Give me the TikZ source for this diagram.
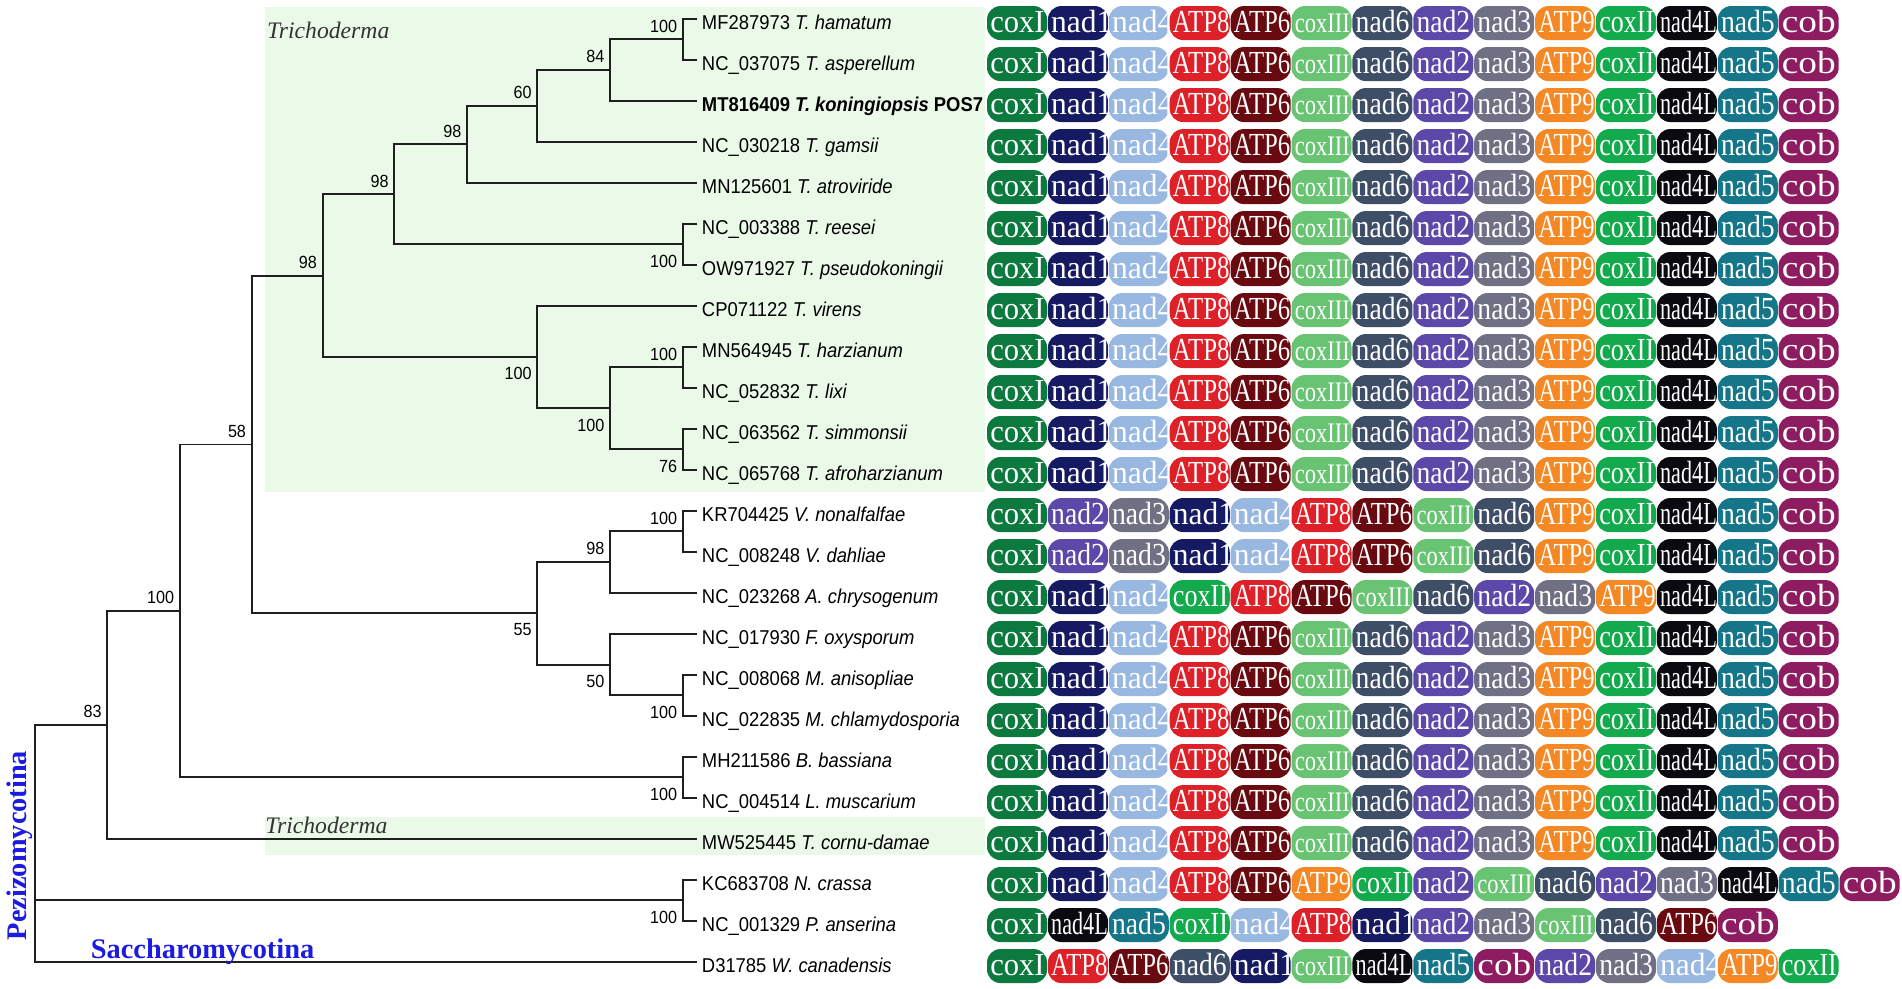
\documentclass[tikz,border=0pt]{standalone}
\usepackage{fontspec}
\usepackage{graphicx}
\newfontfamily\taxfont{Liberation Sans}[FakeStretch=0.92]
\newfontfamily\pillfont{Liberation Serif}
\newfontfamily\titlefont{Liberation Serif}
\definecolor{gcoxI}{RGB}{12,122,62}
\definecolor{gnad1}{RGB}{22,26,98}
\definecolor{gnad4}{RGB}{152,184,226}
\definecolor{gATP8}{RGB}{222,32,40}
\definecolor{gATP6}{RGB}{104,10,16}
\definecolor{gcoxIII}{RGB}{104,196,114}
\definecolor{gnad6}{RGB}{62,78,102}
\definecolor{gnad2}{RGB}{92,72,168}
\definecolor{gnad3}{RGB}{112,112,132}
\definecolor{gATP9}{RGB}{244,136,36}
\definecolor{gcoxII}{RGB}{18,170,76}
\definecolor{gnad4L}{RGB}{10,10,16}
\definecolor{gnad5}{RGB}{20,118,136}
\definecolor{gcob}{RGB}{142,28,96}
\definecolor{trigreen}{RGB}{235,249,233}
\definecolor{cladeblue}{RGB}{28,28,224}
\newcommand\setgene[3]{\expandafter\def\csname ghs#1\endcsname{#2}\expandafter\def\csname gvs#1\endcsname{#3}}
\setgene{coxI}{0.95}{1}
\setgene{nad1}{0.98}{1}
\setgene{nad4}{0.98}{1}
\setgene{ATP8}{0.77}{1}
\setgene{ATP6}{0.77}{1}
\setgene{ATP9}{0.77}{1}
\setgene{coxIII}{0.7}{0.88}
\setgene{nad6}{0.86}{1}
\setgene{nad2}{0.86}{1}
\setgene{nad3}{0.86}{1}
\setgene{nad5}{0.86}{1}
\setgene{coxII}{0.81}{1}
\setgene{nad4L}{0.69}{1}
\setgene{cob}{1.16}{1}
\newcommand\generow[2]{%
  \edef\genelist{#2}%
  \foreach \g [count=\k from 0] in \genelist {
    \pgfmathsetmacro\px{813.7+50.2*\k}
    \pgfmathsetmacro\py{15.5+33.8*#1+3.5}
    \fill[fill=g\g, rounded corners=11pt] (\px,\py-14) rectangle ++(49.5,28);
    \node[pilltxt] (g#1-\k) at (\px+2.5,\py+7.8)
      {\scalebox{\csname ghs\g\endcsname}[\csname gvs\g\endcsname]{\g}};
  }}
\def\stdrow{coxI,nad1,nad4,ATP8,ATP6,coxIII,nad6,nad2,nad3,ATP9,coxII,nad4L,nad5,cob}
\begin{document}
\begin{tikzpicture}[x=1pt,y=-1pt,
  br/.style={line width=1.6pt, draw=black!88, line join=miter},
  taxon/.style={anchor=base west, inner sep=0pt, font=\taxfont\fontsize{16.5}{18}\selectfont},
  sup/.style={inner sep=0pt, font=\taxfont\fontsize{14.5}{16}\selectfont},
  supa/.style={sup, anchor=south east},
  supb/.style={sup, anchor=north east},
  pilltxt/.style={anchor=base west, inner sep=0pt, text=white, font=\pillfont\fontsize{26.5}{28}\selectfont},
  genus/.style={anchor=base west, inner sep=0pt, text=black!80, font=\titlefont\itshape\fontsize{19.5}{21}\selectfont},
  subph/.style={inner sep=0pt, text=cladeblue, font=\titlefont\bfseries\fontsize{23.4}{25}\selectfont},
]
\useasboundingbox (0,0) rectangle (1568,815.3);
\fill[white] (0,0) rectangle (1568,815.3);
% Trichoderma shading
\fill[trigreen] (218.5,5.5) rectangle (812,405.5);
\fill[trigreen] (218.5,673.5) rectangle (812,704.5);
\node[genus] (tri1) at (220,31.6) {Trichoderma};
\node[genus] (tri2) at (218.5,687) {Trichoderma};
% leaf tips
\foreach \i in {0,...,23} { \coordinate (t\i) at (575,{15.5+33.8*\i}); }
% internal nodes
\coordinate (nA) at (563,32.4);
\coordinate (n84) at (503,57.75);
\coordinate (n60) at (443,87.33);
\coordinate (n98a) at (385,119.0);
\coordinate (nB) at (563,201.4);
\coordinate (n98b) at (325,160.2);
\coordinate (nC) at (563,302.8);
\coordinate (nD) at (563,370.4);
\coordinate (nE) at (503,336.6);
\coordinate (nF) at (443,294.35);
\coordinate (n98c) at (266,227.3);
\coordinate (nV) at (563,438.0);
\coordinate (n98v) at (503,463.35);
\coordinate (nM) at (563,573.2);
\coordinate (n50) at (503,547.85);
\coordinate (n55) at (443,505.6);
\coordinate (n58) at (207.5,366.45);
\coordinate (nBL) at (563,640.8);
\coordinate (n100) at (148.3,503.6);
\coordinate (n83) at (88.5,597.55);
\coordinate (nNP) at (563,742.2);
\coordinate (root) at (29,700);
% branches
\draw[br] (t0) -| (nA) |- (t1);
\draw[br] (nA) -| (n84) |- (t2);
\draw[br] (n84) -| (n60) |- (t3);
\draw[br] (n60) -| (n98a) |- (t4);
\draw[br] (t5) -| (nB) |- (t6);
\draw[br] (n98a) -| (n98b) |- (nB);
\draw[br] (t8) -| (nC) |- (t9);
\draw[br] (t10) -| (nD) |- (t11);
\draw[br] (nC) -| (nE) |- (nD);
\draw[br] (t7) -| (nF) |- (nE);
\draw[br] (n98b) -| (n98c) |- (nF);
\draw[br] (t12) -| (nV) |- (t13);
\draw[br] (nV) -| (n98v) |- (t14);
\draw[br] (t16) -| (nM) |- (t17);
\draw[br] (t15) -| (n50) |- (nM);
\draw[br] (n98v) -| (n55) |- (n50);
\draw[br] (n98c) -| (n58) |- (n55);
\draw[br] (t18) -| (nBL) |- (t19);
\draw[br] (n58) -| (n100) |- (nBL);
\draw[br] (n100) -| (n83) |- (t20);
\draw[br] (t21) -| (nNP) |- (t22);
\draw[br] (n83) -| (root) |- (t23);
\draw[br] (root |- nNP) -- (nNP);
% support values
\node[supa] (s1) at ([shift={(-4.5,-5.5)}]nA) {100};
\node[supa] (s2) at ([shift={(-4.5,-5.5)}]n84) {84};
\node[supa] (s3) at ([shift={(-4.5,-5.5)}]n60) {60};
\node[supa] (s4) at ([shift={(-4.5,-5.5)}]n98a) {98};
\node[supa] (s5) at ([shift={(-4.5,-5.5)}]n98b) {98};
\node[supa] (s6) at ([shift={(-4.5,-5.5)}]n98c) {98};
\node[supb] (s7) at ([shift={(-4.5,8.5)}]nB) {100};
\node[supb] (s8) at ([shift={(-4.5,8.5)}]nF) {100};
\node[supb] (s9) at ([shift={(-4.5,8.5)}]nE) {100};
\node[supa] (s10) at ([shift={(-4.5,-5.5)}]nC) {100};
\node[supb] (s11) at ([shift={(-4.5,8.5)}]nD) {76};
\node[supa] (s12) at ([shift={(-4.5,-5.5)}]n58) {58};
\node[supa] (s13) at ([shift={(-4.5,-5.5)}]nV) {100};
\node[supa] (s14) at ([shift={(-4.5,-5.5)}]n98v) {98};
\node[supb] (s15) at ([shift={(-4.5,8.5)}]n55) {55};
\node[supb] (s16) at ([shift={(-4.5,8.5)}]n50) {50};
\node[supb] (s17) at ([shift={(-4.5,8.5)}]nM) {100};
\node[supb] (s18) at ([shift={(-4.5,8.5)}]nBL) {100};
\node[supa] (s19) at ([shift={(-4.5,-5.5)}]n100) {100};
\node[supa] (s20) at ([shift={(-4.5,-5.5)}]n83) {83};
\node[supb] (s21) at ([shift={(-4.5,8.5)}]nNP) {100};
% taxon labels
\foreach \i/\acc/\sp in {0/MF287973/T. hamatum, 1/NC\_037075/T. asperellum,
  3/NC\_030218/T. gamsii, 4/MN125601/T. atroviride, 5/NC\_003388/T. reesei,
  6/OW971927/T. pseudokoningii, 7/CP071122/T. virens, 8/MN564945/T. harzianum,
  9/NC\_052832/T. lixi, 10/NC\_063562/T. simmonsii, 11/NC\_065768/T. afroharzianum,
  12/KR704425/V. nonalfalfae, 13/NC\_008248/V. dahliae, 14/NC\_023268/A. chrysogenum,
  15/NC\_017930/F. oxysporum, 16/NC\_008068/M. anisopliae, 17/NC\_022835/M. chlamydosporia,
  18/MH211586/B. bassiana, 19/NC\_004514/L. muscarium, 20/MW525445/T. cornu-damae,
  21/KC683708/N. crassa, 22/NC\_001329/P. anserina, 23/D31785/W. canadensis}
  { \node[taxon] (L\i) at (578.5,{15.5+33.8*\i+8.9}) {\acc{} \textit{\sp}}; }
\node[taxon] (L2) at (578.5,{15.5+33.8*2+8.9}) {\bfseries MT816409 \textit{T. koningiopsis} POS7};
% subphylum labels
\node[subph, rotate=90] (pez) at (16.5,697) {Pezizomycotina};
\node[subph, anchor=base] (sac) at (167,790) {Saccharomycotina};
% gene order pills
\foreach \r in {0,...,11,15,16,17,18,19,20} { \generow{\r}{\stdrow} }
\generow{12}{coxI,nad2,nad3,nad1,nad4,ATP8,ATP6,coxIII,nad6,ATP9,coxII,nad4L,nad5,cob}
\generow{13}{coxI,nad2,nad3,nad1,nad4,ATP8,ATP6,coxIII,nad6,ATP9,coxII,nad4L,nad5,cob}
\generow{14}{coxI,nad1,nad4,coxII,ATP8,ATP6,coxIII,nad6,nad2,nad3,ATP9,nad4L,nad5,cob}
\generow{21}{coxI,nad1,nad4,ATP8,ATP6,ATP9,coxII,nad2,coxIII,nad6,nad2,nad3,nad4L,nad5,cob}
\generow{22}{coxI,nad4L,nad5,coxII,nad4,ATP8,nad1,nad2,nad3,coxIII,nad6,ATP6,cob}
\generow{23}{coxI,ATP8,ATP6,nad6,nad1,coxIII,nad4L,nad5,cob,nad2,nad3,nad4,ATP9,coxII}
\end{tikzpicture}
\end{document}
